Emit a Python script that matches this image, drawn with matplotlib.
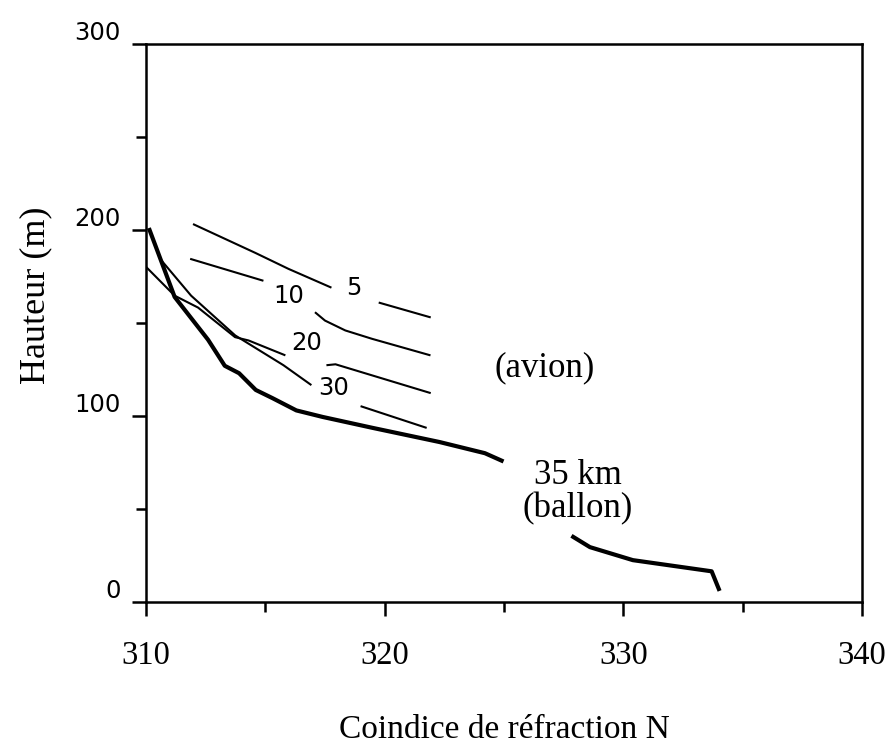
import numpy as np
import matplotlib
matplotlib.use('Agg')
import matplotlib.pyplot as plt
from matplotlib.ticker import MultipleLocator
from matplotlib.transforms import ScaledTranslation

nan = np.nan

# courbes avion (5, 10, 20, 30 km) -- interrompues aux etiquettes
n_5 = [311.97, 314.58, 315.97, 317.77, nan, 319.75, 321.93]
h_5 = [203.2, 187.7, 179.1, 169.0, nan, 161.0, 153.0]

n_10 = [311.85, 314.92, nan, 317.08, 317.5, 318.35, 319.47, 321.92]
h_10 = [184.5, 172.7, nan, 155.8, 151.3, 146.0, 141.5, 132.6]

n_20 = [310.0, 311.2, 312.18, 313.73, 314.3, 315.84, nan, 317.56, 317.94, 321.93]
h_20 = [180.2, 164.7, 158.3, 142.4, 140.6, 132.6, nan, 127.3, 127.8, 112.3]

n_30 = [310.59, 311.89, 313.74, 315.76, 316.93, nan, 318.99, 321.76]
h_30 = [184.5, 164.7, 143.3, 127.3, 116.6, nan, 105.3, 93.6]

# ballon 35 km
n_35 = [310.15, 311.2, 312.6, 313.3, 313.9, 314.6, 315.3, 316.3, 317.4, 319.5,
        322.3, 324.2, 324.9, nan, 327.9, 328.6, 330.4, 333.7, 334.0]
h_35 = [200.0, 164.0, 141.0, 127.0, 123.0, 114.0, 109.6, 103.0, 99.5, 93.6,
        86.0, 80.0, 76.0, nan, 35.0, 29.5, 22.5, 16.5, 7.0]

serif = 'Liberation Serif'
sans = 'DejaVu Sans'

fig = plt.figure(figsize=(8.94, 7.44), dpi=100)
ax = fig.add_axes([146 / 894, 1 - 602 / 744, (862 - 146) / 894, (602 - 44) / 744])

thin = dict(color='black', lw=1.5, solid_capstyle='butt')
ax.plot(n_5, h_5, **thin)
ax.plot(n_10, h_10, **thin)
ax.plot(n_20, h_20, **thin)
ax.plot(n_30, h_30, **thin)
ax.plot(n_35, h_35, color='black', lw=3.0, solid_joinstyle='round')

ax.text(318.7, 169, '5', family=sans, fontsize=17.5, ha='center', va='center')
ax.text(315.97, 164.5, '10', family=sans, fontsize=17.5, ha='center', va='center')
ax.text(316.72, 139, '20', family=sans, fontsize=17.5, ha='center', va='center')
ax.text(317.86, 115, '30', family=sans, fontsize=17.5, ha='center', va='center')
ax.text(326.7, 126, '(avion)', family=serif, fontsize=25, ha='center', va='center')
ax.text(328.1, 59, '35 km\n(ballon)', family=serif, fontsize=25, ha='center',
        va='center', linespacing=1.0)

ax.set_xlim(310, 340)
ax.set_ylim(0, 300)
ax.xaxis.set_major_locator(MultipleLocator(10))
ax.xaxis.set_minor_locator(MultipleLocator(5))
ax.yaxis.set_major_locator(MultipleLocator(100))
ax.yaxis.set_minor_locator(MultipleLocator(50))

for s in ax.spines.values():
    s.set_linewidth(1.8)

ax.tick_params(which='major', direction='out', length=10, width=1.8)
ax.tick_params(which='minor', direction='out', length=7, width=1.8)
ax.tick_params(axis='x', which='major', pad=18)
ax.tick_params(axis='y', which='major', pad=8)

for lbl in ax.get_xticklabels():
    lbl.set_family(serif)
    lbl.set_fontsize(23.5)
offset = ScaledTranslation(0, 10 / 72, fig.dpi_scale_trans)
for lbl in ax.get_yticklabels():
    lbl.set_family(sans)
    lbl.set_fontsize(17.5)
    lbl.set_transform(lbl.get_transform() + offset)

ax.set_xlabel('Coindice de réfraction N', family=serif, fontsize=24, labelpad=31)
ax.set_ylabel('Hauteur (m)', family=serif, fontsize=26)
ax.yaxis.set_label_coords(-0.131, 0.55)

fig.savefig('out.png', dpi=100)
